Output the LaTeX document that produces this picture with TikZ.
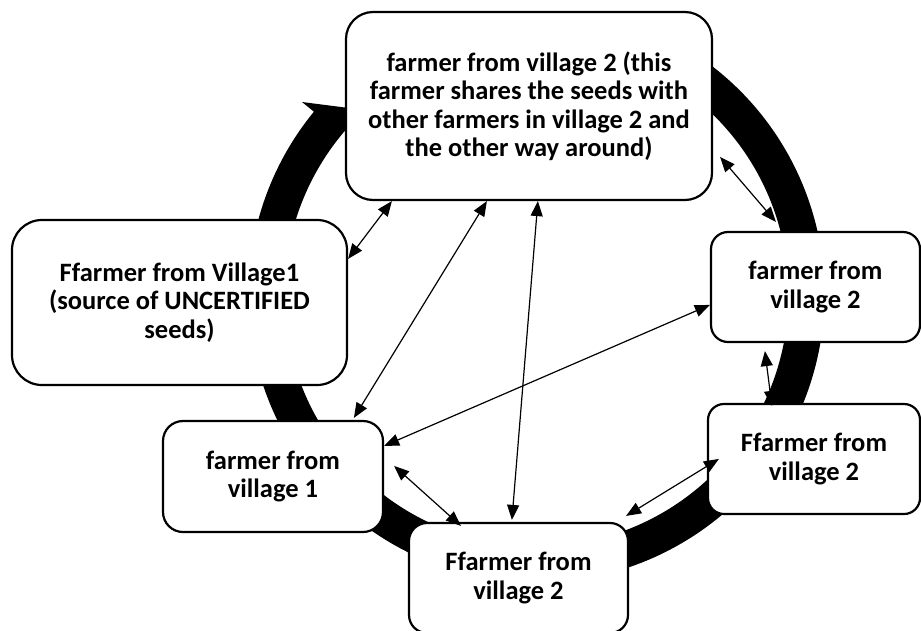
\documentclass[tikz,border=0pt]{standalone}
\usepackage{fontspec}
\setmainfont{Carlito}
\usetikzlibrary{arrows.meta}
\begin{document}
\begin{tikzpicture}[x=1pt,y=-1pt,
  box/.style={draw=black, line width=2.2pt, fill=white, align=center,
    font=\bfseries\fontsize{26.5}{28.5}\selectfont, inner sep=0pt},
  link/.style={line width=1.2pt,
    {Triangle[length=15pt,width=12pt]}-{Triangle[length=15pt,width=12pt]}}]
\useasboundingbox (0,0) rectangle (921,630);
% thick circular arrow (centre 536.5,294.5)
\fill[black] (611.0,16.3) arc[start angle=285,end angle=579.4,radius=288]
  -- (302,102) -- (380,112) -- (375,150) -- (352.2,122.6)
  arc[start angle=583,end angle=285,radius=252] -- cycle;
% boxes
\node[box, minimum width=366pt, minimum height=188pt, rounded corners=27pt] (T) at (529,106)
  {farmer from village 2 (this\\farmer shares the seeds with\\other farmers in village 2 and\\the other way around)};
\node[box, minimum width=335pt, minimum height=165pt, rounded corners=30pt] (L) at (179.5,302.5)
  {Ffarmer from Village1\\(source of UNCERTIFIED\\seeds)};
\node[box, minimum width=209pt, minimum height=110pt, rounded corners=17pt] (R) at (815.5,287)
  {farmer from\\village 2};
\node[box, minimum width=212pt, minimum height=110pt, rounded corners=16pt] (LR) at (814,459)
  {Ffarmer from\\village 2};
\node[box, minimum width=220pt, minimum height=111pt, rounded corners=20pt] (LL) at (273,476.5)
  {farmer from\\village 1};
\node[box, minimum width=219pt, minimum height=110pt, rounded corners=18pt] (B) at (518.5,578)
  {Ffarmer from\\village 2};
% connectors
\draw[link] ([xshift=47pt]T.south west) -- ([yshift=-40pt]L.north east);
\draw[link] ([xshift=7pt,yshift=-146pt]T.north east) -- ([xshift=66pt,yshift=9pt]R.north west);
\draw[link] ([xshift=142pt]T.south west) -- ([xshift=192pt,yshift=2pt]LL.north west);
\draw[link] ([xshift=193pt]T.south west) -- ([xshift=104pt,yshift=2pt]B.north west);
\draw[link] ([yshift=-74pt]R.north west) -- ([yshift=-26pt]LL.north east);
\draw[link] ([xshift=55pt,yshift=-8pt]R.south west) -- ([xshift=65pt,yshift=-3pt]LR.north west);
\draw[link] ([xshift=10pt,yshift=-46pt]LL.north east) -- ([xshift=53pt,yshift=-4pt]B.north west);
\draw[link] ([xshift=-3pt,yshift=6pt]B.north east) -- ([xshift=12pt,yshift=-56pt]LR.north west);
\end{tikzpicture}
\end{document}
